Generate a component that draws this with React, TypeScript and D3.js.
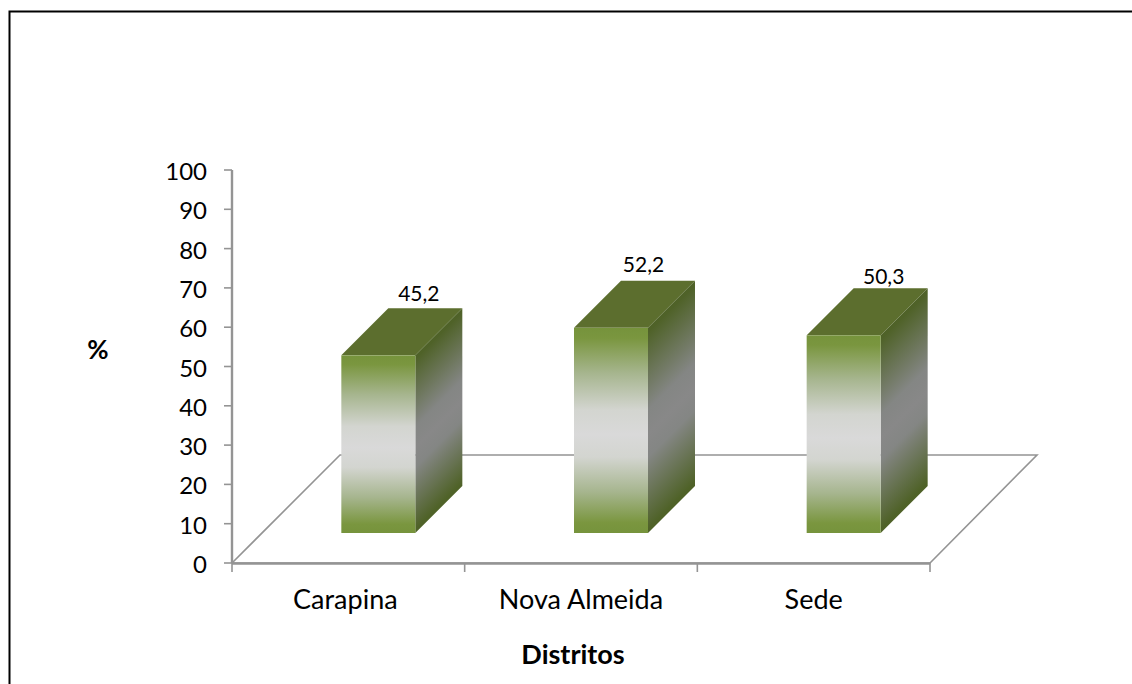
import React from "react";
import * as d3 from "d3";

const districts = ["Carapina", "Nova Almeida", "Sede"];
const shares = [45.2, 52.2, 50.3];
const shareLabels = ["45,2", "52,2", "50,3"];
const percentTicks = [0, 10, 20, 30, 40, 50, 60, 70, 80, 90, 100];

const WIDTH = 1132;
const HEIGHT = 684;
const FONT = "Lato, 'Open Sans', sans-serif";
const AXIS = "#949494";
const DEPTH = 47;
const FLOOR_LIFT = 30;
const BAR_WIDTH = 74;

// Hand placement of the value labels and category names around their bars
const valueNudge = [
  [3.5, -7],
  [-4.5, -9],
  [3, -4],
];
const categoryNudge = [-3, 0, 0];

const y = d3.scaleLinear().domain([0, 100]).range([563, 170]);
const x = d3.scaleBand().domain(districts).range([232, 930]);
const tickEdges = [...districts.map((d) => x(d) as number), 930];
const floorPath = d3.line()([
  [232, 563],
  [930, 563],
  [1037, 455],
  [340, 455],
  [232, 563],
]) as string;

export default function App() {
  const bars = districts.map((name, i) => {
    const left = (x(name) as number) + x.bandwidth() / 2 + FLOOR_LIFT - BAR_WIDTH / 2;
    const bottom = y(0) - FLOOR_LIFT;
    const top = bottom - (y(0) - y(shares[i]));
    return { name, i, left, right: left + BAR_WIDTH, top, bottom };
  });

  return (
    <svg
      width={WIDTH}
      height={HEIGHT}
      viewBox={`0 0 ${WIDTH} ${HEIGHT}`}
      style={{ position: "absolute", left: 0, top: 0, background: "#fff" }}
    >
      <defs>
        <linearGradient id="front" x1="0" y1="0" x2="0" y2="1">
          <stop offset="0" stopColor="#76933c" />
          <stop offset="0.05" stopColor="#7a963f" />
          <stop offset="0.22" stopColor="#a6b58e" />
          <stop offset="0.4" stopColor="#d3d5d0" />
          <stop offset="0.52" stopColor="#d9d9d9" />
          <stop offset="0.63" stopColor="#d3d5d0" />
          <stop offset="0.8" stopColor="#a6b58e" />
          <stop offset="0.95" stopColor="#7a963f" />
          <stop offset="1" stopColor="#76933c" />
        </linearGradient>
        {bars.map((b) => {
          const h = (b.bottom - b.top) / 2;
          return (
            <linearGradient
              key={b.name}
              id={`side-${b.i}`}
              gradientUnits="userSpaceOnUse"
              x1={b.right}
              y1={b.top}
              x2={b.right + h}
              y2={b.top + h}
            >
              <stop offset="0.02" stopColor="#4f6228" />
              <stop offset="0.4" stopColor="#848684" />
              <stop offset="0.52" stopColor="#888888" />
              <stop offset="0.63" stopColor="#848684" />
              <stop offset="0.98" stopColor="#4f6228" />
            </linearGradient>
          );
        })}
      </defs>

      {/* Page frame: open on the right and at the bottom */}
      <path d={`M9.5 684V11.5H${WIDTH}`} fill="none" stroke="#000" strokeWidth={2} />

      {/* Floor of the 3D plot */}
      <path d={floorPath} fill="none" stroke={AXIS} strokeWidth={1.6} />
      <line x1={232} x2={930} y1={563.5} y2={563.5} stroke={AXIS} strokeWidth={2.4} />
      <line x1={232} x2={232} y1={y(100)} y2={y(0)} stroke={AXIS} strokeWidth={2.4} />

      {percentTicks.map((t) => (
        <g key={t}>
          <line x1={224} x2={232} y1={y(t)} y2={y(t)} stroke={AXIS} strokeWidth={1.6} />
          <text
            x={207}
            y={y(t)}
            dy="0.42em"
            textAnchor="end"
            fontFamily={FONT}
            fontSize={24}
            fill="#000"
          >
            {t}
          </text>
        </g>
      ))}

      {tickEdges.map((tx) => (
        <line key={tx} x1={tx} x2={tx} y1={563} y2={572} stroke={AXIS} strokeWidth={1.6} />
      ))}

      {bars.map((b) => (
        <g key={b.name}>
          <path
            d={`M${b.left} ${b.top}L${b.left + DEPTH} ${b.top - DEPTH}H${b.right + DEPTH}L${b.right} ${b.top}Z`}
            fill="#5c6e2e"
          />
          <path
            d={`M${b.right} ${b.top}L${b.right + DEPTH} ${b.top - DEPTH}V${b.bottom - DEPTH}L${b.right} ${b.bottom}Z`}
            fill={`url(#side-${b.i})`}
          />
          <rect
            x={b.left}
            y={b.top}
            width={BAR_WIDTH}
            height={b.bottom - b.top}
            fill="url(#front)"
          />
          <text
            x={b.right + valueNudge[b.i][0]}
            y={b.top - DEPTH + valueNudge[b.i][1]}
            textAnchor="middle"
            fontFamily={FONT}
            fontSize={21}
            fill="#000"
          >
            {shareLabels[b.i]}
          </text>
          <text
            x={(x(b.name) as number) + x.bandwidth() / 2 + categoryNudge[b.i]}
            y={609}
            textAnchor="middle"
            fontFamily={FONT}
            fontSize={27}
            fill="#000"
          >
            {b.name}
          </text>
        </g>
      ))}

      <text x={98} y={359} textAnchor="middle" fontFamily={FONT} fontSize={26} fontWeight={700}>
        %
      </text>
      <text x={573} y={664} textAnchor="middle" fontFamily={FONT} fontSize={27} fontWeight={700}>
        Distritos
      </text>
    </svg>
  );
}
